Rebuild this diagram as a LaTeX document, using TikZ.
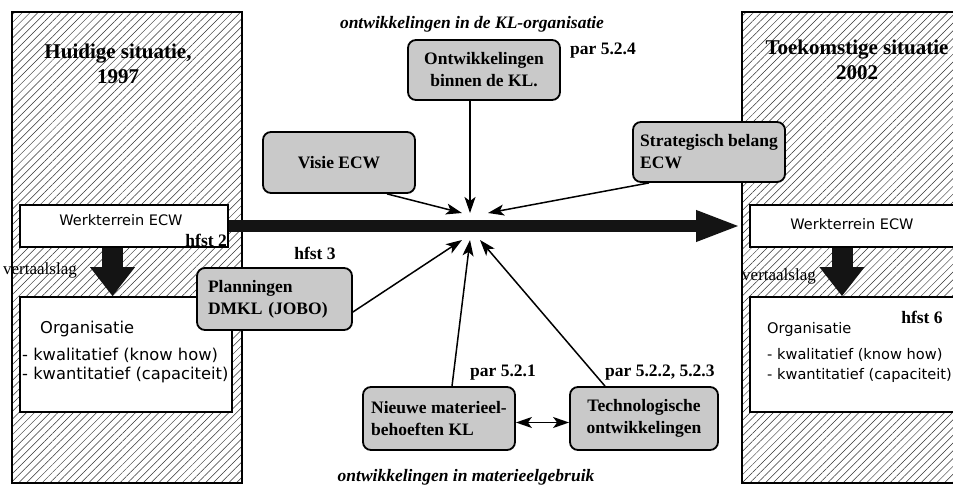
\documentclass[tikz,border=0pt]{standalone}
\usepackage{fontspec}
\setmainfont{Liberation Serif}
\newfontfamily\sansf{DejaVu Sans}
\usetikzlibrary{arrows.meta,patterns.meta,calc}
\begin{document}
\begin{tikzpicture}[x=1pt,y=-1pt,
  panel/.style={draw=black, line width=1.6pt, inner sep=0pt,
    pattern={Lines[angle=45,distance=5.5pt,line width=0.5pt]}, pattern color=black!80},
  whitebox/.style={draw=black, line width=1.6pt, fill=white, inner sep=0pt},
  graybox/.style={draw=black, line width=1.8pt, fill=gray!42, rounded corners=8pt,
    inner sep=0pt, font=\fontsize{17.5}{22}\selectfont\bfseries},
  lbl/.style={inner sep=0pt, font=\fontsize{17.5}{22}\selectfont\bfseries},
  ttl/.style={inner sep=0pt, align=center, font=\fontsize{21}{25}\selectfont\bfseries},
  itl/.style={inner sep=0pt, font=\fontsize{17.5}{22}\selectfont\bfseries\itshape},
  sanstxt/.style={inner sep=0pt, font=\fontsize{14.5}{18}\selectfont\sansf},
  orgtxt/.style={inner sep=0pt, anchor=west, font=\fontsize{16.3}{20}\selectfont\sansf},
  rorgtxt/.style={inner sep=0pt, anchor=west, font=\fontsize{14.6}{20}\selectfont\sansf},
  vtxt/.style={inner sep=0pt, anchor=west, font=\fontsize{17}{20}\selectfont},
  conn/.style={draw=black, line width=1.5pt, -{Stealth[length=16pt,width=11pt,inset=4pt]}},
  bigarrow/.style={draw=black!92, line width=12pt, -{Triangle[length=45pt,width=28pt]}},
  downarrow/.style={draw=black!92, line width=21pt, -{Triangle[length=29pt,width=43pt]}}
]
\useasboundingbox (0,0) rectangle (953,486);
\fill[white] (0,0) rectangle (953,486);

% panels
\node[panel, minimum width=230pt, minimum height=471pt] (lp) at (127,247.5) {};
\node[panel, minimum width=215pt, minimum height=471pt] (rp) at (849.5,247.5) {};

% panel titles
\node[ttl] (ltitle) at (118,64) {Huidige situatie,\\1997};
\node[ttl] (rtitle) at (857,60) {Toekomstige situatie\\2002};

% white boxes
\node[whitebox, minimum width=208pt, minimum height=42pt] (lwerk) at (124,226) {};
\node[whitebox, minimum width=212pt, minimum height=115pt] (lorg) at (126,354.5) {};
\node[whitebox, minimum width=207pt, minimum height=42pt] (rwerk) at (853.5,226) {};
\node[whitebox, minimum width=207pt, minimum height=115pt] (rorg) at (853.5,354.5) {};

\node[sanstxt] (lwt) at (121,220) {Werkterrein ECW};
\node[sanstxt] (rwt) at (852,224) {Werkterrein ECW};
\node[lbl, anchor=east] (h2) at (227,240) {hfst 2};

\node[orgtxt] (lo1) at (40,329) {Organisatie};
\node[orgtxt] (lo2) at (22,355) {- kwalitatief (know how)};
\node[orgtxt] (lo3) at (22,375) {- kwantitatief (capaciteit)};
\node[rorgtxt] (ro1) at (767,329) {Organisatie};
\node[rorgtxt] (ro2) at (767,355) {- kwalitatief (know how)};
\node[rorgtxt] (ro3) at (767,375) {- kwantitatief (capaciteit)};
\node[lbl] (h6) at (922,317) {hfst 6};

% down arrows (vertaalslag)
\draw[downarrow] ($(lwerk.south)+(-11.5,0)$) -- ($(lorg.north)+(-13.5,0)$);
\draw[downarrow] ($(rwerk.south)+(-11.5,0)$) -- ($(rorg.north)+(-11.5,0)$);
\node[vtxt] (lv) at (3,270) {vertaalslag};
\node[vtxt] (rv) at (742,276) {vertaalslag};

% big horizontal arrow
\draw[bigarrow] (lwerk.east) -- (rp.west |- lwerk.east);

% influence boxes
\node[graybox, minimum width=152pt, minimum height=60pt, align=center] (ontw) at (484,70) {Ontwikkelingen\\binnen de KL.};
\node[graybox, minimum width=152pt, minimum height=61pt] (visie) at (339,162.5) {Visie ECW};
\node[graybox, minimum width=152pt, minimum height=60pt, align=left] (strat) at (709,152) {Strategisch belang\\ECW};
\node[graybox, minimum width=155pt, minimum height=62pt, text width=133pt, align=left] (plann) at (274.5,299) {Planningen\\DMKL (JOBO)};
\node[graybox, minimum width=152pt, minimum height=63pt, align=left] (nieuwe) at (439,418.5) {Nieuwe materieel-\\behoeften KL};
\node[graybox, minimum width=148pt, minimum height=63pt, align=center] (techn) at (644,418.5) {Technologische\\ontwikkelingen};

% labels
\node[itl] (ttop) at (472,24) {ontwikkelingen in de KL-organisatie};
\node[itl] (tbot) at (466,477) {ontwikkelingen in materieelgebruik};
\node[lbl] (p524) at (603,51) {par 5.2.4};
\node[lbl] (h3) at (315,253) {hfst 3};
\node[lbl] (p521) at (503,373) {par 5.2.1};
\node[lbl, anchor=west] (p522) at (605,373) {par 5.2.2, 5.2.3};

% convergence points
\coordinate (hT) at (470,213);
\coordinate (hTL) at (462,213);
\coordinate (hTR) at (488,213);
\coordinate (hBL) at (462,240);
\coordinate (hB) at (470,240);
\coordinate (hBR) at (480,240);

\draw[conn] (ontw.south -| hT) -- (hT);
\draw[conn] ($(visie.south)+(48,0)$) -- (hTL);
\draw[conn] ($(strat.south west)+(17,0)$) -- (hTR);
\draw[conn] ($(plann.east)+(0,13)$) -- (hBL);
\draw[conn] ($(nieuwe.north)+(13,0)$) -- (hB);
\draw[conn] ($(techn.north)+(-39,0)$) -- (hBR);
\draw[conn, {Stealth[length=16pt,width=11pt,inset=4pt]}-{Stealth[length=16pt,width=11pt,inset=4pt]}] ($(nieuwe.east)+(0,4)$) -- ($(techn.west)+(0,4)$);
\end{tikzpicture}
\end{document}
